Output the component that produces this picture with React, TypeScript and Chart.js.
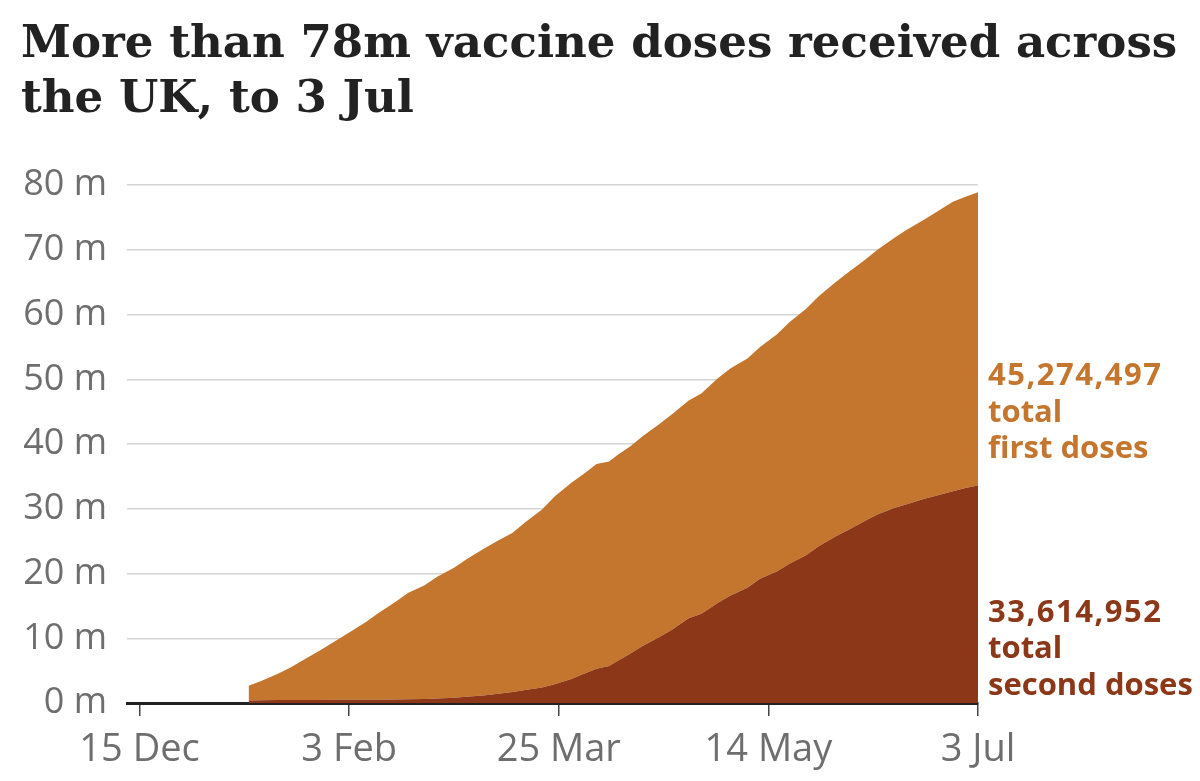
import { useEffect, useRef } from "react";
import { Chart, registerables, type Plugin } from "chart.js";

Chart.register(...registerables);

// days since 15 Dec 2020
const days = [
  26, 29, 33, 36, 40, 43, 47, 50, 54, 57, 61, 64, 68, 71, 75, 78, 82, 85, 89, 92,
  96, 99, 103, 106, 109, 112, 114, 117, 120, 124, 127, 131, 134, 138, 141, 145, 148, 152, 155, 159,
  162, 166, 169, 173, 176, 180, 183, 187, 190, 194, 197, 200,
];

// millions, cumulative
const firstDoses = [
  2.29, 2.98, 4.05, 5.04, 6.53, 7.62, 9.21, 10.4, 11.99, 13.38, 15.06, 16.43, 17.58, 18.8, 20.1, 21.25, 22.64, 23.5, 24.6, 25.9,
  27.5, 29.0, 30.3, 30.9, 31.6, 31.6, 31.8, 32.0, 32.4, 32.9, 33.3, 33.6, 34.0, 34.7, 35.1, 35.4, 35.8, 36.6, 37.3, 38.1,
  38.6, 39.3, 39.8, 40.3, 40.9, 41.7, 42.4, 43.1, 43.8, 44.7, 45.0, 45.27,
];

const secondDoses = [
  0.39, 0.42, 0.45, 0.46, 0.47, 0.48, 0.49, 0.5, 0.51, 0.52, 0.54, 0.57, 0.62, 0.7, 0.8, 0.95, 1.16, 1.4, 1.7, 2.0,
  2.4, 2.9, 3.7, 4.5, 5.3, 5.7, 6.5, 7.6, 8.8, 10.2, 11.3, 13.1, 13.8, 15.5, 16.6, 17.8, 19.2, 20.3, 21.5, 22.8,
  24.2, 25.7, 26.7, 28.1, 29.1, 30.1, 30.7, 31.5, 32.0, 32.7, 33.2, 33.61,
];

const tickDays = [0, 50, 100, 150, 200];
const tickLabels = ["15 Dec", "3 Feb", "25 Mar", "14 May", "3 Jul"];
const yTickValues = [0, 10, 20, 30, 40, 50, 60, 70, 80];

const firstLabel = ["45,274,497", "total", "first doses"];
const secondLabel = ["33,614,952", "total", "second doses"];

const ORANGE = "#c4762e";
const BROWN = "#8b3718";
const GREY = "#6e6e6e";

const endLabels: Plugin<"line"> = {
  id: "endLabels",
  afterDraw(chart) {
    const { ctx, chartArea, scales } = chart;
    const y = scales.y;
    ctx.save();
    ctx.font = 'bold 31px "Open Sans"';
    ctx.textAlign = "left";
    ctx.textBaseline = "alphabetic";
    const block = (lines: string[], color: string, baseValue: number) => {
      ctx.fillStyle = color;
      lines.forEach((t, i) => {
        (ctx as any).letterSpacing = i === 0 ? "1.5px" : "0px";
        ctx.fillText(t, chartArea.right + 10, y.getPixelForValue(baseValue) + i * 36.7);
      });
    };
    block(firstLabel, ORANGE, 49.1);
    block(secondLabel, BROWN, 12.55);
    ctx.restore();
  },
};

function VaccineChart() {
  const canvasRef = useRef<HTMLCanvasElement>(null);
  const chartRef = useRef<Chart | null>(null);

  useEffect(() => {
    if (!canvasRef.current) return;
    chartRef.current?.destroy();

    chartRef.current = new Chart(canvasRef.current, {
      type: "line",
      data: {
        datasets: [
          {
            label: "Second doses",
            data: days.map((d, i) => ({ x: d, y: secondDoses[i] })),
            backgroundColor: BROWN,
            borderWidth: 0,
            pointRadius: 0,
            fill: "origin",
          },
          {
            label: "First doses",
            data: days.map((d, i) => ({ x: d, y: firstDoses[i] })),
            backgroundColor: ORANGE,
            borderWidth: 0,
            pointRadius: 0,
            fill: "-1",
          },
        ],
      },
      options: {
        animation: false,
        responsive: true,
        maintainAspectRatio: false,
        layout: { padding: { top: 185, right: 222, left: 0, bottom: 0 } },
        plugins: { legend: { display: false }, tooltip: { enabled: false } },
        scales: {
          x: {
            type: "linear",
            min: -3,
            max: 200,
            z: 1,
            afterBuildTicks: (axis) => {
              axis.ticks = tickDays.map((v) => ({ value: v }));
            },
            afterFit: (axis) => {
              axis.height = 78;
            },
            ticks: {
              autoSkip: false,
              maxRotation: 0,
              padding: 11,
              color: GREY,
              font: { family: "Open Sans", size: 38 },
              callback: (v) => tickLabels[tickDays.indexOf(Number(v))] ?? "",
            },
            grid: { drawOnChartArea: false, drawTicks: true, tickLength: 13, color: "#444", lineWidth: 1.5 },
            border: { display: true, color: "#222", width: 3 },
          },
          y: {
            stacked: true,
            min: 0,
            max: 80,
            afterBuildTicks: (axis) => {
              axis.ticks = yTickValues.map((v) => ({ value: v }));
            },
            afterFit: (axis) => {
              axis.width = 127;
            },
            ticks: {
              padding: 20,
              color: GREY,
              font: { family: "Open Sans", size: 36 },
              callback: (v) => `${v} m`,
            },
            grid: { color: "#d4d4d4", lineWidth: 1.5, drawTicks: false },
            border: { display: false },
          },
        },
      },
      plugins: [endLabels],
    });

    return () => {
      chartRef.current?.destroy();
    };
  }, []);

  return (
    <div style={{ position: "absolute", inset: 0 }}>
      <canvas ref={canvasRef} aria-label="UK vaccine doses received" />
    </div>
  );
}

export default function App() {
  return (
    <div style={{ position: "fixed", left: 0, top: 0, width: 1200, height: 781, background: "#fff", overflow: "hidden" }}>
      <VaccineChart />
      <div
        style={{
          position: "absolute",
          left: 21,
          top: 14,
          margin: 0,
          font: 'bold 45.1px/55px "DejaVu Serif"',
          color: "#222",
          whiteSpace: "nowrap",
          zIndex: 1,
        }}
      >
        More than 78m vaccine doses received across
        <br />
        the UK, to 3 Jul
      </div>
    </div>
  );
}
